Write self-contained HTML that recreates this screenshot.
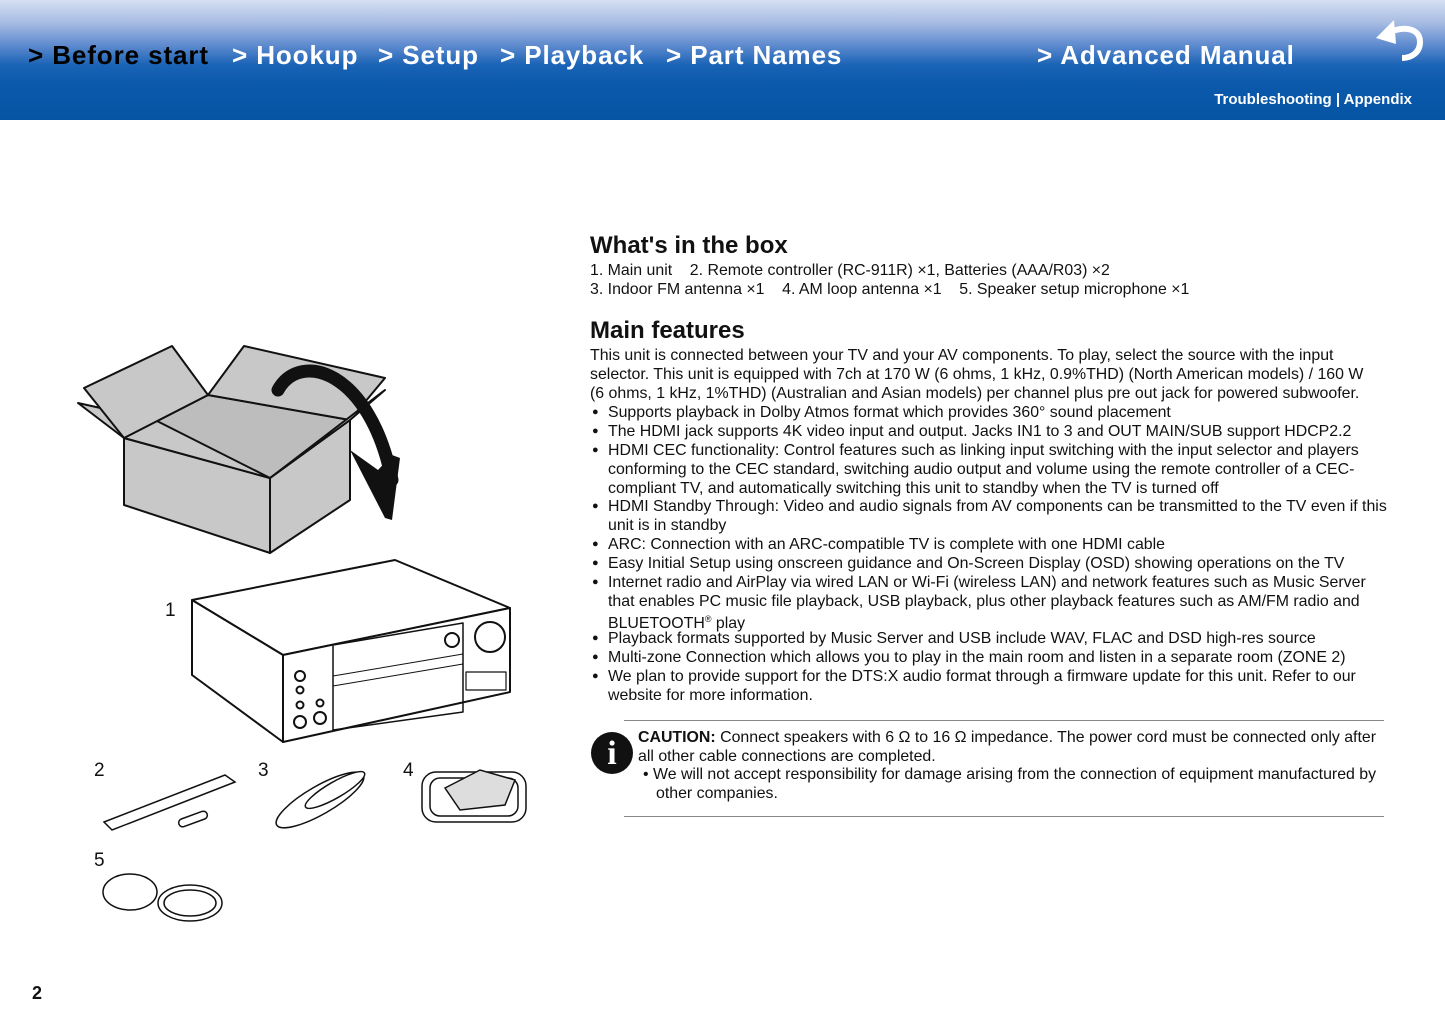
<!DOCTYPE html>
<html><head><meta charset="utf-8">
<style>
*{margin:0;padding:0;box-sizing:border-box}
body{width:1445px;height:1022px;position:relative;background:#fff;font-family:"Liberation Sans",Arial,sans-serif;color:#111;overflow:hidden}
.hdr{position:absolute;left:0;top:0;width:1445px;height:120px;background:linear-gradient(to bottom,#d6e0f2 0px,#a9bde3 22px,#5f8bcf 45px,#1a63b6 65px,#0a59ab 85px,#0654a4 120px)}
.nav{position:absolute;top:40px;font-weight:bold;font-size:26px;color:#fff;white-space:nowrap;letter-spacing:0.9px}
.sub{position:absolute;top:91px;right:33px;font-weight:bold;font-size:15px;color:#fff}
.l{position:absolute;left:590px;font-size:15.9px;line-height:19px;white-space:nowrap}
.b{left:608px}
.dot{position:absolute;left:592px;font-size:11px;line-height:19px}
h2{position:absolute;left:590px;font-size:24px;font-weight:bold}
.num{position:absolute;font-size:19px}
</style></head><body>
<div class="hdr"></div>
<div class="nav" style="left:28px;color:#000">&gt; Before start</div>
<div class="nav" style="left:232px">&gt; Hookup</div>
<div class="nav" style="left:378px">&gt; Setup</div>
<div class="nav" style="left:500px">&gt; Playback</div>
<div class="nav" style="left:666px">&gt; Part Names</div>
<div class="nav" style="left:1037px">&gt; Advanced Manual</div>
<svg style="position:absolute;left:1374px;top:18px" width="52" height="44" viewBox="0 0 52 44">
<path d="M16 14 C30 8 46 10 46 24 C46 34 38 40 28 40" fill="none" stroke="#fff" stroke-width="6"/>
<polygon points="2,20 20,2 22,26" fill="#fff"/></svg>
<div class="sub">Troubleshooting | Appendix</div>

<h2 style="top:232px">What's in the box</h2>
<div class="l" style="top:261px">1. Main unit&nbsp;&nbsp;&nbsp; 2. Remote controller (RC-911R) ×1, Batteries (AAA/R03) ×2</div>
<div class="l" style="top:280px">3. Indoor FM antenna ×1&nbsp;&nbsp;&nbsp; 4. AM loop antenna ×1&nbsp;&nbsp;&nbsp; 5. Speaker setup microphone ×1</div>
<h2 style="top:317px">Main features</h2>
<div class="l" style="top:346px">This unit is connected between your TV and your AV components. To play, select the source with the input</div>
<div class="l" style="top:365px">selector. This unit is equipped with 7ch at 170 W (6 ohms, 1 kHz, 0.9%THD) (North American models) / 160 W</div>
<div class="l" style="top:384px">(6 ohms, 1 kHz, 1%THD) (Australian and Asian models) per channel plus pre out jack for powered subwoofer.</div>
<div class="dot" style="top:403px">●</div><div class="l b" style="top:403px">Supports playback in Dolby Atmos format which provides 360° sound placement</div>
<div class="dot" style="top:422px">●</div><div class="l b" style="top:422px">The HDMI jack supports 4K video input and output. Jacks IN1 to 3 and OUT MAIN/SUB support HDCP2.2</div>
<div class="dot" style="top:441px">●</div><div class="l b" style="top:441px">HDMI CEC functionality: Control features such as linking input switching with the input selector and players</div>
<div class="l b" style="top:460px">conforming to the CEC standard, switching audio output and volume using the remote controller of a CEC-</div>
<div class="l b" style="top:479px">compliant TV, and automatically switching this unit to standby when the TV is turned off</div>
<div class="dot" style="top:497px">●</div><div class="l b" style="top:497px">HDMI Standby Through: Video and audio signals from AV components can be transmitted to the TV even if this</div>
<div class="l b" style="top:516px">unit is in standby</div>
<div class="dot" style="top:535px">●</div><div class="l b" style="top:535px">ARC: Connection with an ARC-compatible TV is complete with one HDMI cable</div>
<div class="dot" style="top:554px">●</div><div class="l b" style="top:554px">Easy Initial Setup using onscreen guidance and On-Screen Display (OSD) showing operations on the TV</div>
<div class="dot" style="top:573px">●</div><div class="l b" style="top:573px">Internet radio and AirPlay via wired LAN or Wi-Fi (wireless LAN) and network features such as Music Server</div>
<div class="l b" style="top:592px">that enables PC music file playback, USB playback, plus other playback features such as AM/FM radio and</div>
<div class="l b" style="top:610px">BLUETOOTH<span style="font-size:9px;vertical-align:6px">®</span> play</div>
<div class="dot" style="top:629px">●</div><div class="l b" style="top:629px">Playback formats supported by Music Server and USB include WAV, FLAC and DSD high-res source</div>
<div class="dot" style="top:648px">●</div><div class="l b" style="top:648px">Multi-zone Connection which allows you to play in the main room and listen in a separate room (ZONE 2)</div>
<div class="dot" style="top:667px">●</div><div class="l b" style="top:667px">We plan to provide support for the DTS:X audio format through a firmware update for this unit. Refer to our</div>
<div class="l b" style="top:686px">website for more information.</div>

<div style="position:absolute;left:624px;top:720px;width:760px;border-top:1px solid #888"></div>
<div style="position:absolute;left:624px;top:816px;width:760px;border-top:1px solid #888"></div>
<div style="position:absolute;left:591px;top:732px;width:42px;height:42px;border-radius:50%;background:#111;color:#fff;font-family:'Liberation Serif',serif;font-weight:bold;font-size:34px;text-align:center;line-height:44px">i</div>
<div class="l" style="left:638px;top:728px"><b>CAUTION:</b> Connect speakers with 6 Ω to 16 Ω impedance. The power cord must be connected only after</div>
<div class="l" style="left:638px;top:747px">all other cable connections are completed.</div>
<div class="l" style="left:643px;top:765px">• We will not accept responsibility for damage arising from the connection of equipment manufactured by</div>
<div class="l" style="left:656px;top:784px">other companies.</div>

<div class="num" style="left:165px;top:600px">1</div>
<div class="num" style="left:94px;top:760px">2</div>
<div class="num" style="left:258px;top:760px">3</div>
<div class="num" style="left:403px;top:760px">4</div>
<div class="num" style="left:94px;top:850px">5</div>
<div style="position:absolute;left:32px;top:983px;font-weight:bold;font-size:18px">2</div>

<svg style="position:absolute;left:0;top:0" width="560" height="1022" viewBox="0 0 560 1022">
<g stroke="#111" stroke-width="2" stroke-linejoin="round" fill="#c8c8c8">
<polygon points="124,438 270,478 270,553 124,505"/>
<polygon points="270,478 350,420 350,500 270,553"/>
<polygon points="124,438 208,395 350,420 270,478" fill="#bdbdbd"/>
<polygon points="78,403 124,438 270,478 155,420" />
<polygon points="84,388 172,346 208,395 124,438" />
<polygon points="208,395 244,346 385,378 350,420"/>
<polygon points="270,478 350,420 385,390" fill="#c8c8c8"/>
</g>
<path d="M278,390 C300,350 370,370 392,480" fill="none" stroke="#111" stroke-width="13" stroke-linecap="round"/>
<polygon points="350,450 378,470 392,455 400,458 392,520 385,518" fill="#111"/>
<g stroke="#111" stroke-width="2" fill="#fff" stroke-linejoin="round">
<polygon points="192,600 395,560 510,608 283,655"/>
<polygon points="192,600 283,655 283,742 192,675"/>
<polygon points="283,655 510,608 510,692 283,742"/>
<polygon points="333,645 463,623 463,712 333,730" fill="none" stroke-width="1.5"/>
<polygon points="333,676 463,654 463,664 333,686" fill="none" stroke-width="1"/>
<circle cx="490" cy="637" r="15"/><circle cx="452" cy="640" r="7"/>
<circle cx="300" cy="676" r="5"/><circle cx="300" cy="690" r="3.5"/><circle cx="300" cy="705" r="3.5"/><circle cx="300" cy="722" r="6"/><circle cx="320" cy="718" r="6"/><circle cx="320" cy="703" r="3.5"/>
<rect x="466" y="672" width="40" height="18" stroke-width="1.2"/>
</g>
<g stroke="#111" stroke-width="1.5" fill="#fff">
<polygon points="104,822 225,775 235,782 112,830"/>
<rect x="178" y="815" width="30" height="8" rx="4" transform="rotate(-20 193 819)"/>
<ellipse cx="320" cy="800" rx="50" ry="14" transform="rotate(-30 320 800)"/>
<ellipse cx="335" cy="790" rx="34" ry="8" transform="rotate(-30 335 790)"/>
<rect x="422" y="772" width="104" height="50" rx="14"/>
<rect x="430" y="778" width="88" height="38" rx="10"/>
<polygon points="445,788 480,770 515,780 505,805 460,810" fill="#ddd"/>
<ellipse cx="130" cy="892" rx="27" ry="18" fill="#fff"/>
<ellipse cx="190" cy="903" rx="32" ry="18"/>
<ellipse cx="190" cy="903" rx="26" ry="13"/>
</g>
</svg>
</body></html>
